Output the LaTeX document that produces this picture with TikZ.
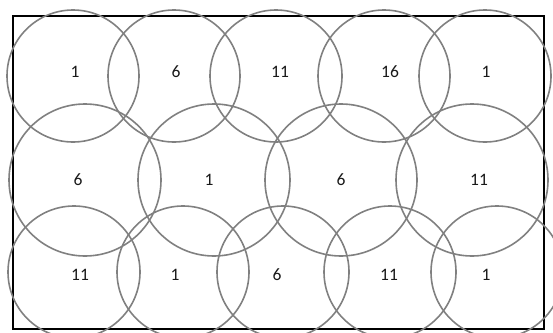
\documentclass[tikz,border=0pt]{standalone}
\usepackage{fontspec}
\setmainfont{Carlito}
\usepackage{tikz}
\usetikzlibrary{positioning,calc}

\tikzset{
  cell/.style={draw=black!50,line width=1.6pt},
  chan/.style={text=black!90,inner sep=0pt,font=\fontsize{17.5}{20}\selectfont}
}

\begin{document}
\begin{tikzpicture}[x=1pt,y=-1pt]
        \useasboundingbox (0,0) rectangle (553,332);
        % Area border
        \draw[line width=2pt] (13,16) rectangle (544,329);
        % Top row of cells
        \foreach \cx/\lx/\ch [count=\i] in {73/75/1,174/176/6,276/280/11,384/390/16,485/486/1}{
          \draw[cell] (\cx,76) circle (66pt);
          \node[chan] (top\i) at (\lx,72) {\ch};
        }
        % Middle row of cells
        \foreach \cx/\lx/\ch [count=\i] in {85/78/6,214/209/1,341/341/6,472/479/11}{
          \draw[cell] (\cx,180) circle (76pt);
          \node[chan] (mid\i) at (\lx,180) {\ch};
        }
        % Bottom row of cells
        \foreach \cx/\lx/\ch [count=\i] in {74/80/11,183/175/1,283/277/6,390/389/11,497/486/1}{
          \draw[cell] (\cx,272) circle (66pt);
          \node[chan] (bot\i) at (\lx,275) {\ch};
        }
      \end{tikzpicture}
\end{document}
